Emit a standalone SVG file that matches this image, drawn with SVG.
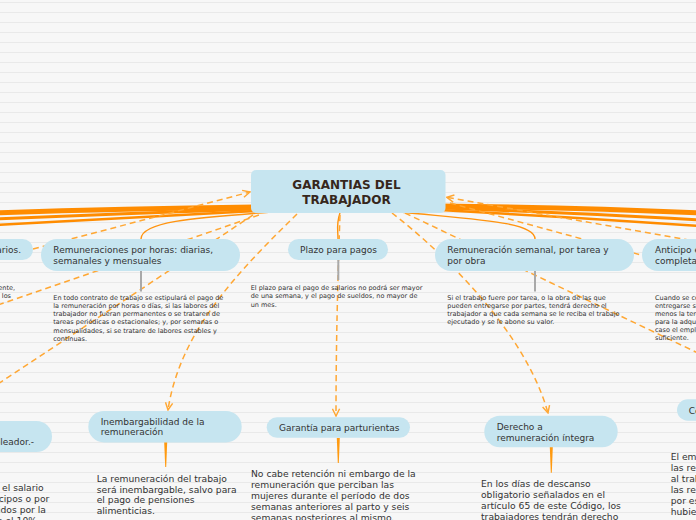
<svg xmlns="http://www.w3.org/2000/svg" width="696" height="520" viewBox="0 0 696 520">
<defs>
<pattern id="rule" x="0" y="0" width="10" height="10" patternUnits="userSpaceOnUse">
<rect width="10" height="10" fill="#f7f7f7"/>
<rect y="2" width="10" height="1" fill="#e9e9e9"/>
</pattern>
<marker id="ah" viewBox="0 0 10 10" refX="9" refY="5" markerWidth="9" markerHeight="9" orient="auto" markerUnits="userSpaceOnUse">
<path d="M1,1 L9,5 L1,9" fill="none" stroke="#ffa733" stroke-width="1.6"/>
</marker>
<style>
.pill{fill:#c6e5f0;}
.t{font-family:"DejaVu Sans",Verdana,sans-serif;font-size:9px;fill:#333;}
.s{font-family:"DejaVu Sans",Verdana,sans-serif;font-size:6.5px;fill:#333;}
.b{font-family:"DejaVu Sans",Verdana,sans-serif;font-size:9.2px;fill:#333;}
.h{font-family:"DejaVu Sans",Verdana,sans-serif;font-size:12px;font-weight:bold;fill:#36271c;}
.thick{fill:none;stroke:#ff8c00;stroke-linecap:round;}
.thin{fill:none;stroke:#ff9410;stroke-width:1.4;}
.dash{fill:none;stroke:#ffa733;stroke-width:1.5;stroke-dasharray:6 4;}
.gray{stroke:#a9a9a9;stroke-width:2;}
.tap{fill:#ff9a10;}
</style>
</defs>
<rect width="696" height="520" fill="url(#rule)"/>
<g id="connectors">
<path class="thick" d="M255,207 C170,208 80,210 -5,213" stroke-width="5"/>
<path class="thick" d="M255,209 C170,212 80,215 -5,219" stroke-width="3"/>
<path class="thick" d="M255,211 C170,216 80,220 -5,225" stroke-width="2.5"/>
<path class="thick" d="M440,206 C530,207 610,209 700,213" stroke-width="5"/>
<path class="thick" d="M440,208 C530,211 610,215 700,220" stroke-width="3"/>
<path class="thick" d="M440,210 C530,215 610,220 700,226" stroke-width="2.5"/>
<path class="thin" d="M272,212 C190,218 141,222 141,239"/>
<path class="thin" d="M400,212 C480,220 535,222 535,239"/>
<path class="thin" d="M340,213 C336,224 338,230 338,239"/>
<path class="dash" d="M33,249 L250,192" marker-end="url(#ah)"/>
<path class="dash" d="M-2,305 L262,214"/>
<path class="dash" d="M-2,384 L256,213"/>
<path class="dash" d="M297,214 C240,270 180,330 168,410" marker-end="url(#ah)"/>
<path class="dash" d="M340,215 C337,300 336,360 336,416" marker-end="url(#ah)"/>
<path class="dash" d="M392,213 C440,250 525,330 548,413" marker-end="url(#ah)"/>
<path class="dash" d="M700,242 L446.7,197.3" marker-end="url(#ah)"/>
<path class="dash" d="M450,203 L700,271"/>
<path class="dash" d="M405,213 L700,354"/>
<line class="gray" x1="141" y1="271" x2="141" y2="291.5"/>
<line class="gray" x1="338.3" y1="260" x2="338.3" y2="280"/>
<line class="gray" x1="535" y1="271" x2="535" y2="291.5"/>
<polygon class="tap" points="164.2,442 167.2,442 166.2,467 165.2,467"/>
<polygon class="tap" points="336.8,438 339.8,438 338.8,463 337.8,463"/>
<polygon class="tap" points="549.8,447 552.8,447 551.8,472.7 550.8,472.7"/>
</g>
<g id="central">
<rect x="251" y="170" width="194.5" height="43" rx="5" class="pill"/>
<text class="h" x="346.5" y="189" text-anchor="middle">GARANTIAS DEL</text>
<text class="h" x="346.5" y="204" text-anchor="middle">TRABAJADOR</text>
</g>
<g id="n-salarios">
<rect x="-60" y="239" width="93" height="21" rx="10.5" class="pill"/>
<text class="t" x="21" y="253" text-anchor="end">salarios.</text>
<text class="s" x="15" y="290" text-anchor="end">ente,</text>
<text class="s" x="11" y="298" text-anchor="end">los</text>
</g>
<g id="n-horas">
<rect x="41" y="239" width="199" height="32" rx="16" class="pill"/>
<text class="t" x="53.3" y="252.5">Remuneraciones por horas: diarias,</text>
<text class="t" x="53.3" y="263.5">semanales y mensuales</text>
<text class="s" x="53.3" y="299.5">En todo contrato de trabajo se estipulará el pago de</text>
<text class="s" x="53.3" y="307.8">la remuneración por horas o días, si las labores del</text>
<text class="s" x="53.3" y="316.1">trabajador no fueran permanentes o se trataren de</text>
<text class="s" x="53.3" y="324.4">tareas periódicas o estacionales; y, por semanas o</text>
<text class="s" x="53.3" y="332.7">mensualidades, si se tratare de labores estables y</text>
<text class="s" x="53.3" y="341">continuas.</text>
</g>
<g id="n-plazo">
<rect x="288" y="239" width="100" height="21" rx="10.5" class="pill"/>
<text class="t" x="300" y="252.5">Plazo para pagos</text>
<text class="s" x="250.7" y="289.5">El plazo para el pago de salarios no podrá ser mayor</text>
<text class="s" x="250.7" y="298">de una semana, y el pago de sueldos, no mayor de</text>
<text class="s" x="250.7" y="306.5">un mes.</text>
</g>
<g id="n-semanal">
<rect x="435" y="239" width="199" height="32" rx="16" class="pill"/>
<text class="t" x="447.3" y="252.5">Remuneración semanal, por tarea y</text>
<text class="t" x="447.3" y="263.5">por obra</text>
<text class="s" x="447.3" y="300.3">Si el trabajo fuere por tarea, o la obra de las que</text>
<text class="s" x="447.3" y="308.2">pueden entregarse por partes, tendrá derecho el</text>
<text class="s" x="447.3" y="316.1">trabajador a que cada semana se le reciba el trabajo</text>
<text class="s" x="447.3" y="324">ejecutado y se le abone su valor.</text>
</g>
<g id="n-anticipo">
<rect x="642" y="239" width="150" height="32" rx="16" class="pill"/>
<text class="t" x="655" y="252.5">Anticipo en obras</text>
<text class="t" x="655" y="263.5">completas</text>
<text class="s" x="655" y="300.3">Cuando se contrate</text>
<text class="s" x="655" y="308.2">entregarse sino</text>
<text class="s" x="655" y="316.1">menos la tercera</text>
<text class="s" x="655" y="324">para la adquisición</text>
<text class="s" x="655" y="331.9">caso el empleador</text>
<text class="s" x="655" y="339.8">suficiente.</text>
</g>
<g id="n-empleador">
<rect x="-100" y="421" width="152" height="31" rx="15.5" class="pill"/>
<text class="t" x="34" y="444.5" text-anchor="end">empleador.-</text>
<text class="b" x="43.7" y="490.5" text-anchor="end">por el salario</text>
<text class="b" x="49.3" y="501.7" text-anchor="end">anticipos o por</text>
<text class="b" x="46" y="513" text-anchor="end">debidos por la</text>
<text class="b" x="37" y="524.2" text-anchor="end">en el 10%</text>
</g>
<g id="n-inembargabilidad">
<rect x="88.3" y="411" width="153.4" height="31.4" rx="15.7" class="pill"/>
<text class="t" x="100.7" y="424.5">Inembargabilidad de la</text>
<text class="t" x="100.7" y="435.3">remuneración</text>
<text class="b" x="96.7" y="481.5">La remuneración del trabajo</text>
<text class="b" x="96.7" y="492.5">será inembargable, salvo para</text>
<text class="b" x="96.7" y="503.4">el pago de pensiones</text>
<text class="b" x="96.7" y="514.3">alimenticias.</text>
</g>
<g id="n-parturientas">
<rect x="266.7" y="417.3" width="143.3" height="20.4" rx="10.2" class="pill"/>
<text class="t" x="279" y="431">Garantía para parturientas</text>
<text class="b" x="251" y="477">No cabe retención ni embargo de la</text>
<text class="b" x="251" y="488">remuneración que perciban las</text>
<text class="b" x="251" y="498.8">mujeres durante el período de dos</text>
<text class="b" x="251" y="509.8">semanas anteriores al parto y seis</text>
<text class="b" x="251" y="520.8">semanas posteriores al mismo.</text>
</g>
<g id="n-integra">
<rect x="484.3" y="415.7" width="133.4" height="31.6" rx="15.8" class="pill"/>
<text class="t" x="496.7" y="430.3">Derecho a</text>
<text class="t" x="496.7" y="441">remuneración íntegra</text>
<text class="b" x="481" y="487">En los días de descanso</text>
<text class="b" x="481" y="497.8">obligatorio señalados en el</text>
<text class="b" x="481" y="508.8">artículo 65 de este Código, los</text>
<text class="b" x="481" y="519.6">trabajadores tendrán derecho</text>
</g>
<g id="n-co">
<rect x="677" y="399.3" width="100" height="21.4" rx="10.7" class="pill"/>
<text class="t" x="688.7" y="413.5">Co</text>
<text class="b" x="670.7" y="460">El empleador</text>
<text class="b" x="670.7" y="470.9">las remuneraciones</text>
<text class="b" x="670.7" y="481.8">al trabajador</text>
<text class="b" x="670.7" y="492.7">las remuneraciones</text>
<text class="b" x="670.7" y="503.6">por este</text>
<text class="b" x="670.7" y="514.5">hubiere</text>
</g>
</svg>
